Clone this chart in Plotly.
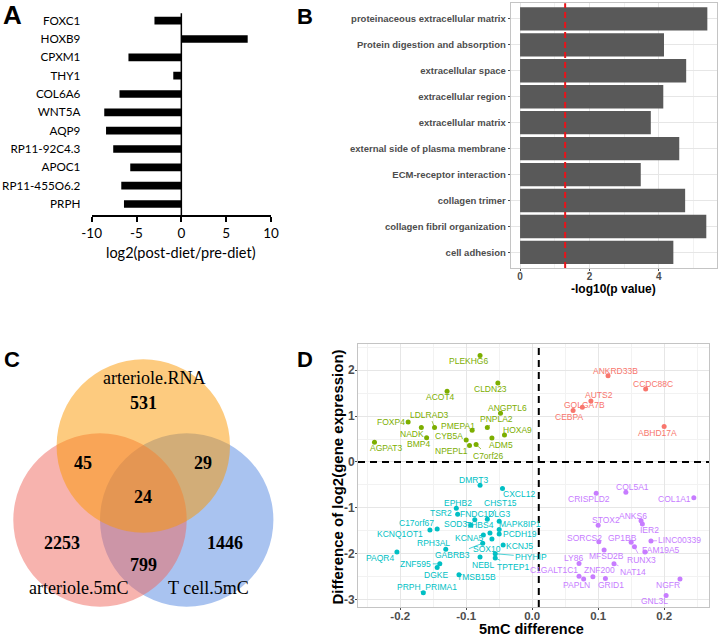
import plotly.graph_objects as go

W, H = 720, 638

# ---------------- Panel A data ----------------
a_genes = ["FOXC1", "HOXB9", "CPXM1", "THY1", "COL6A6", "WNT5A", "AQP9",
           "RP11-92C4.3", "APOC1", "RP11-455O6.2", "PRPH"]
a_log2fc = [-3.0, 7.4, -5.9, -0.9, -6.9, -8.6, -8.4, -7.6, -5.7, -6.7, -6.4]
a_xticks = [-10, -5, 0, 5, 10]

# ---------------- Panel B data ----------------
b_terms = ["proteinaceous extracellular matrix", "Protein digestion and absorption",
           "extracellular space", "extracellular region", "extracellular matrix",
           "external side of plasma membrane", "ECM-receptor interaction",
           "collagen trimer", "collagen fibril organization", "cell adhesion"]
b_neglog10p = [5.40, 4.15, 4.79, 4.13, 3.77, 4.59, 3.48, 4.76, 5.37, 4.42]
b_cutoff = 1.30
b_xticks = [0, 2, 4]

# ---------------- Panel C data ----------------
c_sets = ["arteriole.RNA", "arteriole.5mC", "T cell.5mC"]
c_regions = ["RNA", "art5mC", "T5mC", "RNA&art5mC", "RNA&T5mC", "art5mC&T5mC", "all"]
c_counts = [531, 2253, 1446, 45, 29, 799, 24]

# ---------------- Panel D data ----------------
d_green_genes = ["PLEKHG6", "CLDN23", "ACOT4", "ANGPTL6", "FOXP4", "LDLRAD3", "NADK",
                 "PMEPA1", "PNPLA2", "HOXA9", "BMP4", "ADM5", "CYB5A", "NPEPL1",
                 "C7orf26", "AGPAT3"]
d_green_x = [-0.079, -0.052, -0.129, -0.048, -0.188, -0.148, -0.168, -0.091, -0.068,
             -0.042, -0.160, -0.061, -0.100, -0.095, -0.085, -0.239]
d_green_y = [2.32, 1.72, 1.54, 1.06, 0.87, 0.75, 0.75, 0.69, 0.75, 0.59, 0.53, 0.52,
             0.48, 0.36, 0.38, 0.43]

d_red_genes = ["ANKRD33B", "CCDC88C", "AUTS2", "GOLGA7B", "CEBPA", "ABHD17A"]
d_red_x = [0.115, 0.172, 0.089, 0.076, 0.062, 0.200]
d_red_y = [1.88, 1.59, 1.33, 1.19, 1.12, 0.77]

d_cyan_genes = ["DMRT3", "CXCL12", "EPHB2", "TSR2", "FNDC1", "CHST15", "DLG3", "SOD3",
                "THBS4", "MAPK8IP1", "PCDH19", "KCNA5", "SOX10", "GABRB3", "KCNJ5",
                "RPH3AL", "PAQR4", "PHYHIP", "TPTEP1", "NEBL", "ZNF595", "DGKE",
                "TMSB15B", "PRPH_PRIMA1", "C17orf67", "KCNQ1OT1"]
d_cyan_x = [-0.079, -0.045, -0.115, -0.113, -0.087, -0.068, -0.050, -0.093, -0.064,
            -0.050, -0.050, -0.074, -0.061, -0.075, -0.044, -0.131, -0.205, -0.056,
            -0.056, -0.079, -0.140, -0.144, -0.111, -0.165, -0.144, -0.155]
d_cyan_y = [-0.51, -0.58, -1.01, -1.14, -1.26, -1.25, -1.29, -1.38, -1.55, -1.47,
            -1.57, -1.59, -1.68, -1.77, -1.81, -1.90, -1.96, -2.00, -2.09, -2.07,
            -2.22, -2.30, -2.46, -2.85, -1.46, -1.48]

d_purple_genes = ["COL5A1", "CRISPLD2", "COL1A1", "STOX2", "ANKS6", "IER2", "SORCS2",
                  "GP1BB", "LINC00339", "MFSD2B", "RUNX3", "FAM19A5", "LY86", "NAT14",
                  "ZNF200", "C1GALT1C1", "PAPLN", "GRID1", "NGFR", "GNL3L"]
d_purple_x = [0.142, 0.097, 0.245, 0.100, 0.165, 0.167, 0.101, 0.150, 0.180, 0.109,
              0.155, 0.171, 0.071, 0.124, 0.092, 0.071, 0.078, 0.111, 0.224, 0.203]
d_purple_y = [-0.66, -0.68, -0.78, -1.38, -1.28, -1.35, -1.74, -1.75, -1.72, -1.92,
              -1.85, -1.96, -2.21, -2.22, -2.50, -2.49, -2.55, -2.54, -2.55, -2.91]

d_vline = 0.01
d_xticks = [-0.2, -0.1, 0.0, 0.1, 0.2]
d_yticks = [-3, -2, -1, 0, 1, 2]

# ---------------- styling / layout (not data) ----------------
SANS = "Liberation Sans"
HUM = "Lato"
SERIF = "Liberation Serif"
GREEN, RED, CYAN, PURPLE = "#7CAE00", "#F8766D", "#00BFC4", "#C77CFF"
GRID, MINOR, BORDER, TICKC = "#E6E6E6", "#F2F2F2", "#C4C4C4", "#4D4D4D"

# label offsets (pixels): dx, dy (down positive), draw segment
D_LABEL_POS = {
    "PLEKHG6": (-12, 6, 0), "CLDN23": (-7, 6, 0), "ACOT4": (-7, 6, 0), "ANGPTL6": (7, -5, 0),
    "FOXP4": (-17, 0, 0), "LDLRAD3": (-5, -13, 1), "NADK": (-9, 6, 0), "PMEPA1": (-14, -4, 0),
    "PNPLA2": (9, -9, 1), "HOXA9": (13, -5, 0), "BMP4": (-8, 6, 0), "ADM5": (9, 7, 0),
    "CYB5A": (-17, -4, 0), "NPEPL1": (-18, 6, 0), "C7orf26": (12, 11, 1), "AGPAT3": (12, 6, 0),
    "ANKRD33B": (7, -5, 0), "CCDC88C": (7, -5, 0), "AUTS2": (8, -6, 0), "GOLGA7B": (2, -2, 0),
    "CEBPA": (-4, 6, 0), "ABHD17A": (-7, 6, 0),
    "DMRT3": (-7, -5, 0), "CXCL12": (17, 5, 0), "EPHB2": (2, -5, 0), "TSR2": (-17, -1, 0),
    "FNDC1": (0, -6, 0), "CHST15": (13, -16, 1), "DLG3": (0, -7, 0), "SOD3": (-15, -1, 0),
    "THBS4": (-10, -8, 0), "MAPK8IP1": (21, -5, 0), "PCDH19": (21, 0, 0), "KCNA5": (-14, 3, 0),
    "SOX10": (-5, 10, 0), "GABRB3": (-30, 12, 1), "KCNJ5": (16, 1, 0), "RPH3AL": (-12, -6, 0),
    "PAQR4": (-17, 6, 0), "PHYHIP": (36, 3, 1), "TPTEP1": (18, 9, 1), "NEBL": (3, 8, 0),
    "ZNF595": (-24, 0, 1), "DGKE": (-1, 7, 0), "TMSB15B": (18, 2, 0), "PRPH_PRIMA1": (4, -6, 0),
    "C17orf67": (-21, -6, 0), "KCNQ1OT1": (-30, 4, 0),
    "COL5A1": (7, -5, 0), "CRISPLD2": (-7, 6, 0), "COL1A1": (-19, 1, 0), "STOX2": (8, -5, 0),
    "ANKS6": (-8, -5, 0), "IER2": (7, 6, 0), "SORCS2": (-14, -4, 0), "GP1BB": (-9, -4, 0),
    "LINC00339": (29, -1, 1), "MFSD2B": (2, 6, 0), "RUNX3": (7, 13, 1), "FAM19A5": (16, -2, 0),
    "LY86": (-6, -5, 0), "NAT14": (19, 8, 1), "ZNF200": (7, -7, 0), "C1GALT1C1": (-25, -6, 0),
    "PAPLN": (-7, 6, 0), "GRID1": (6, 6, 0), "NGFR": (-12, 6, 0), "GNL3L": (-12, 5, 0),
}

# Venn geometry (pixel units in panel-C axis)
VENN_R = 86.7
VENN_CENTERS = {"arteriole.RNA": (143.3, 446), "arteriole.5mC": (100, 520), "T cell.5mC": (186.7, 520)}
VENN_FILL = {"arteriole.RNA": "rgba(251,151,0,0.5)", "arteriole.5mC": "rgba(239,103,93,0.5)",
             "T cell.5mC": "rgba(83,135,225,0.5)"}
VENN_DRAW_ORDER = ["T cell.5mC", "arteriole.5mC", "arteriole.RNA"]
VENN_SET_LABEL_POS = {"arteriole.RNA": (154.3, 378.3), "arteriole.5mC": (78.3, 588.3),
                      "T cell.5mC": (208.3, 588.3)}
VENN_REGION_POS = {"RNA": (143, 403), "art5mC": (61.7, 543.3), "T5mC": (225, 543.3),
                   "RNA&art5mC": (83.3, 462.7), "RNA&T5mC": (203.3, 462.7),
                   "art5mC&T5mC": (143.3, 565), "all": (143.3, 497.3)}


def dx(p0, p1):
    return [p0 / W, p1 / W]


def dy(top, bottom):
    return [1 - bottom / H, 1 - top / H]


def px(x):
    return x / W


def py(y):
    return 1 - y / H


def hyphen(vals, fmt="{:g}"):
    # ggplot-style ASCII hyphen minus instead of the wide unicode minus
    return [fmt.format(v).replace("\u2212", "-") for v in vals]


fig = go.Figure()

# Panel A
fig.add_trace(go.Bar(x=a_log2fc, y=a_genes, orientation="h", marker_color="black",
                     marker_line_width=0, width=0.42, xaxis="x", yaxis="y", showlegend=False))
# Panel B
fig.add_trace(go.Bar(x=b_neglog10p, y=b_terms, orientation="h", marker_color="#595959",
                     marker_line_width=0, width=0.9, xaxis="x2", yaxis="y2", showlegend=False))
# Panel D
groups = [(d_green_genes, d_green_x, d_green_y, GREEN),
          (d_red_genes, d_red_x, d_red_y, RED),
          (d_cyan_genes, d_cyan_x, d_cyan_y, CYAN),
          (d_purple_genes, d_purple_x, d_purple_y, PURPLE)]
for genes, xs, ys, col in groups:
    fig.add_trace(go.Scatter(x=xs, y=ys, mode="markers", marker=dict(size=5, color=col),
                             xaxis="x3", yaxis="y3", showlegend=False, hoverinfo="text",
                             text=genes))

annotations = []
shapes = []

# Panel D labels
for genes, xs, ys, col in groups:
    for g, x, y in zip(genes, xs, ys):
        ox, oy, seg = D_LABEL_POS[g]
        f = dict(family=SANS, size=8.5, color=col)
        if seg:
            annotations.append(dict(x=x, y=y, xref="x3", yref="y3", text=g, showarrow=True,
                                    ax=ox, ay=oy, arrowhead=0, arrowwidth=0.7,
                                    arrowcolor=col, standoff=1, font=f))
        else:
            annotations.append(dict(x=x, y=y, xref="x3", yref="y3", text=g, showarrow=False,
                                    xanchor="center", yanchor="middle",
                                    xshift=ox, yshift=-oy, font=f))

# Panel A zero line
shapes.append(dict(type="line", xref="x", yref="y", x0=0, x1=0, y0=-0.4, y1=10.6,
                   line=dict(color="black", width=1.5)))
# Panel B cutoff
shapes.append(dict(type="line", xref="x2", yref="y2 domain", x0=b_cutoff, x1=b_cutoff,
                   y0=0, y1=1, line=dict(color="#E8141B", width=2, dash="6px,4px")))
# Panel D dashed lines
shapes.append(dict(type="line", xref="x3 domain", yref="y3", x0=0, x1=1, y0=0, y1=0,
                   line=dict(color="black", width=2, dash="7px,5px")))
shapes.append(dict(type="line", xref="x3", yref="y3 domain", x0=d_vline, x1=d_vline,
                   y0=0, y1=1, line=dict(color="black", width=2, dash="7px,5px")))

# Venn circles
for s in VENN_DRAW_ORDER:
    cx, cy = VENN_CENTERS[s]
    shapes.append(dict(type="circle", xref="x4", yref="y4", x0=cx - VENN_R, x1=cx + VENN_R,
                       y0=cy - VENN_R, y1=cy + VENN_R, fillcolor=VENN_FILL[s],
                       line=dict(width=0)))
for s in c_sets:
    x, y = VENN_SET_LABEL_POS[s]
    annotations.append(dict(x=x, y=y, xref="x4", yref="y4", text=s, showarrow=False,
                            xanchor="center", yanchor="middle",
                            font=dict(family=SERIF, size=18, color="black")))
for r, n in zip(c_regions, c_counts):
    x, y = VENN_REGION_POS[r]
    annotations.append(dict(x=x, y=y, xref="x4", yref="y4", text=f"<b>{n}</b>",
                            showarrow=False, xanchor="center", yanchor="middle",
                            font=dict(family=SERIF, size=18, color="black")))


# Axis titles & panel letters
def paper_text(x, y, text, font, **kw):
    d = dict(x=px(x), y=py(y), xref="paper", yref="paper", text=text, showarrow=False,
             xanchor="center", yanchor="middle", font=font)
    d.update(kw)
    return d


annotations += [
    paper_text(181.3, 252.7, "log2(post-diet/pre-diet)", dict(family=HUM, size=14.5, color="black")),
    paper_text(613.8, 289, "<b>-log10(p value)</b>", dict(family=SANS, size=12, color="black")),
    paper_text(531.7, 629, "<b>5mC difference</b>", dict(family=SANS, size=14.5, color="black")),
    paper_text(336.5, 477, "<b>Difference of log2(gene expression)</b>",
               dict(family=SANS, size=15, color="black"), textangle=-90),
]
for letter, (lx, ly, fs) in {"A": (12, 15, 26), "B": (305, 17, 22), "C": (12, 360, 22),
                             "D": (305, 360, 22)}.items():
    annotations.append(paper_text(lx, ly, f"<b>{letter}</b>", dict(family=SANS, size=fs, color="black")))

fig.update_layout(
    template="none",
    width=W, height=H, margin=dict(l=0, r=0, t=0, b=0, pad=0),
    paper_bgcolor="white", plot_bgcolor="white", showlegend=False,
    annotations=annotations, shapes=shapes,
    # Panel A
    xaxis=dict(domain=dx(91.7, 271), range=[-10, 10], tickvals=a_xticks,
               ticktext=hyphen(a_xticks), showgrid=False,
               zeroline=False, showline=True, linecolor="black", linewidth=1.5,
               ticks="outside", ticklen=5, tickwidth=1.5, tickcolor="black", automargin=False,
               tickfont=dict(family=HUM, size=13.5, color="black"), anchor="y"),
    yaxis=dict(domain=dy(11.5, 215), type="category", categoryorder="array",
               categoryarray=a_genes, range=[10.6, -0.5], showgrid=False, zeroline=False,
               showline=False, ticks="outside", ticklen=8, tickcolor="rgba(0,0,0,0)",
               automargin=False, anchor="x",
               tickfont=dict(family=HUM, size=11.7, color="black")),
    # Panel B
    xaxis2=dict(domain=dx(510.7, 716.7), range=[-0.27, 5.67], tickvals=b_xticks,
                showgrid=True, gridcolor=GRID, gridwidth=1, zeroline=False,
                minor=dict(dtick=1, tick0=0, showgrid=True, gridcolor=MINOR, gridwidth=0.6),
                showline=True, mirror=True, linecolor=BORDER, linewidth=1,
                ticks="outside", ticklen=2, tickcolor=TICKC, automargin=False,
                ticklabelstandoff=-3,
                tickfont=dict(family=SANS, size=10, color=TICKC, weight="bold"),
                anchor="y2"),
    yaxis2=dict(domain=dy(3.3, 268), type="category", categoryorder="array",
                categoryarray=b_terms, range=[9.6, -0.6], showgrid=True, gridcolor=GRID,
                zeroline=False, showline=True, mirror=True, linecolor=BORDER, linewidth=1,
                ticks="outside", ticklen=2, tickcolor=TICKC, automargin=False,
                tickfont=dict(family=SANS, size=9.5, color=TICKC, weight="bold"),
                anchor="x2"),
    # Panel D
    xaxis3=dict(domain=dx(358, 709), range=[-0.264, 0.268], tickvals=d_xticks,
                ticktext=hyphen(d_xticks, "{:.1f}"),
                showgrid=True, gridcolor=GRID, zeroline=False,
                minor=dict(dtick=0.05, tick0=0, showgrid=True, gridcolor=MINOR, gridwidth=0.6),
                showline=True, mirror=True, linecolor=BORDER, linewidth=1,
                ticks="outside", ticklen=2, tickcolor=TICKC, automargin=False,
                ticklabelstandoff=-4,
                tickfont=dict(family=SANS, size=11.5, color=TICKC, weight="bold"),
                anchor="y3"),
    yaxis3=dict(domain=dy(344, 607), range=[-3.16, 2.57], tickvals=d_yticks,
                ticktext=hyphen(d_yticks),
                showgrid=True, gridcolor=GRID, zeroline=False,
                minor=dict(dtick=0.5, tick0=0, showgrid=True, gridcolor=MINOR, gridwidth=0.6),
                showline=True, mirror=True, linecolor=BORDER, linewidth=1,
                ticks="outside", ticklen=2, tickcolor=TICKC, automargin=False,
                ticklabelstandoff=-2,
                tickfont=dict(family=SANS, size=12, color=TICKC, weight="bold"),
                anchor="x3"),
    # Panel C (Venn canvas, pixel units)
    xaxis4=dict(domain=dx(0, 330), range=[0, 330], visible=False, anchor="y4", automargin=False),
    yaxis4=dict(domain=dy(310, 638), range=[638, 310], visible=False, anchor="x4", automargin=False),
)

fig.write_html("out.html", config={"displayModeBar": False},
               post_script="document.body.style.margin='0';")
